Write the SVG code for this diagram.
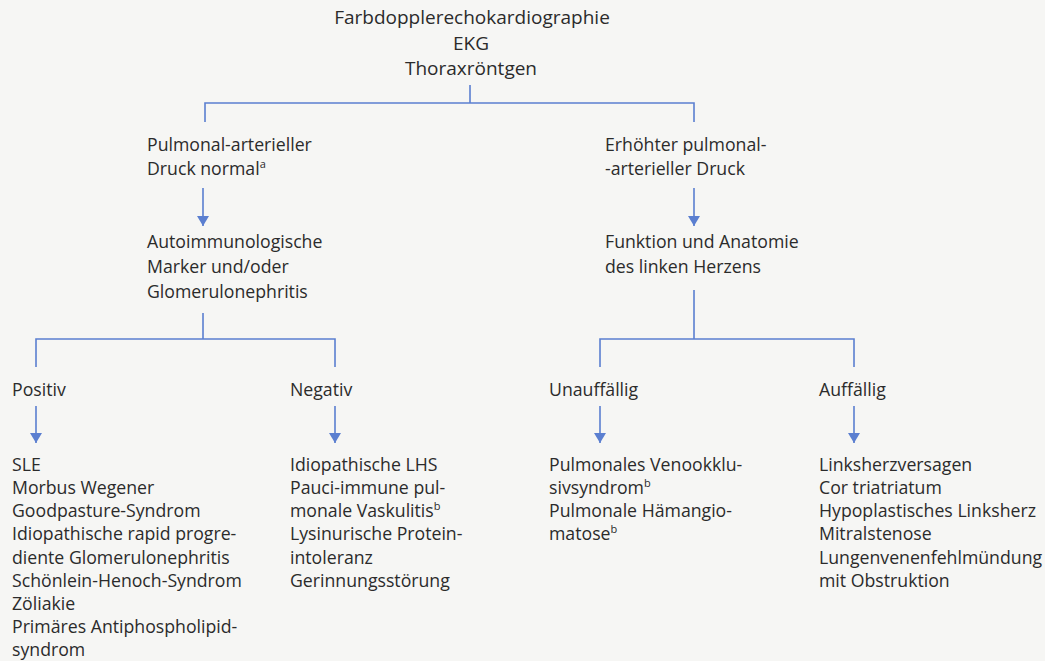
<svg xmlns="http://www.w3.org/2000/svg" width="1045" height="661" viewBox="0 0 1045 661">
<defs>
<style>
text{font-family:"Open Sans","Noto Sans",sans-serif;font-size:17.7px;fill:#2b2b2b}
.t{font-size:19px}
.c{fill:none;stroke:#5b7fd0;stroke-width:1.6}
.s{font-size:11px}
</style>
<marker id="ah" viewBox="0 0 10 12" refX="10" refY="6" markerWidth="10" markerHeight="12" markerUnits="userSpaceOnUse" orient="auto">
<path d="M0,0 L10,6 L0,12 Z" fill="#5b7fd0"/>
</marker>
</defs>
<rect width="1045" height="661" fill="#f6f6f4"/>
<g id="connectors">
<path class="c" d="M470,85 V103 M205,122 V103 H694 V122"/>
<path class="c" d="M203,188 V226" marker-end="url(#ah)"/>
<path class="c" d="M694,188 V226" marker-end="url(#ah)"/>
<path class="c" d="M203,313 V339 M36,367 V339 H335 V367"/>
<path class="c" d="M694,290 V339 M600,367 V339 H854 V367"/>
<path class="c" d="M36,406 V443" marker-end="url(#ah)"/>
<path class="c" d="M335,406 V443" marker-end="url(#ah)"/>
<path class="c" d="M600,406 V443" marker-end="url(#ah)"/>
<path class="c" d="M854,406 V443" marker-end="url(#ah)"/>
</g>
<g id="top" text-anchor="middle">
<text class="t" x="472" y="24">Farbdopplerechokardiographie</text>
<text class="t" x="471" y="50">EKG</text>
<text class="t" x="471" y="75">Thoraxröntgen</text>
</g>
<g id="pa-normal">
<text x="147" y="151">Pulmonal-arterieller</text>
<text x="147" y="175">Druck normal<tspan class="s" dy="-7">a</tspan></text>
</g>
<g id="pa-erhoeht">
<text x="605" y="151">Erhöhter pulmonal-</text>
<text x="605" y="175">-arterieller Druck</text>
</g>
<g id="autoimmun">
<text x="147" y="248">Autoimmunologische</text>
<text x="147" y="273">Marker und/oder</text>
<text x="147" y="298">Glomerulonephritis</text>
</g>
<g id="linkes-herz">
<text x="605" y="248">Funktion und Anatomie</text>
<text x="605" y="273">des linken Herzens</text>
</g>
<g id="positiv"><text x="12" y="396">Positiv</text></g>
<g id="negativ"><text x="290" y="396">Negativ</text></g>
<g id="unauffaellig"><text x="549" y="396">Unauffällig</text></g>
<g id="auffaellig"><text x="819" y="396">Auffällig</text></g>
<g id="list-positiv">
<text x="12" y="471">SLE</text>
<text x="12" y="494">Morbus Wegener</text>
<text x="12" y="517">Goodpasture-Syndrom</text>
<text x="12" y="540">Idiopathische rapid progre-</text>
<text x="12" y="564">diente Glomerulonephritis</text>
<text x="12" y="587">Schönlein-Henoch-Syndrom</text>
<text x="12" y="610">Zöliakie</text>
<text x="12" y="633">Primäres Antiphospholipid-</text>
<text x="12" y="656">syndrom</text>
</g>
<g id="list-negativ">
<text x="290" y="471">Idiopathische LHS</text>
<text x="290" y="494">Pauci-immune pul-</text>
<text x="290" y="517">monale Vaskulitis<tspan class="s" dy="-7">b</tspan></text>
<text x="290" y="540">Lysinurische Protein-</text>
<text x="290" y="564">intoleranz</text>
<text x="290" y="587">Gerinnungsstörung</text>
</g>
<g id="list-unauffaellig">
<text x="549" y="471">Pulmonales Venookklu-</text>
<text x="549" y="494">sivsyndrom<tspan class="s" dy="-7">b</tspan></text>
<text x="549" y="517">Pulmonale Hämangio-</text>
<text x="549" y="540">matose<tspan class="s" dy="-7">b</tspan></text>
</g>
<g id="list-auffaellig">
<text x="819" y="471">Linksherzversagen</text>
<text x="819" y="494">Cor triatriatum</text>
<text x="819" y="517">Hypoplastisches Linksherz</text>
<text x="819" y="540">Mitralstenose</text>
<text x="819" y="564">Lungenvenenfehlmündung</text>
<text x="819" y="587">mit Obstruktion</text>
</g>
</svg>
